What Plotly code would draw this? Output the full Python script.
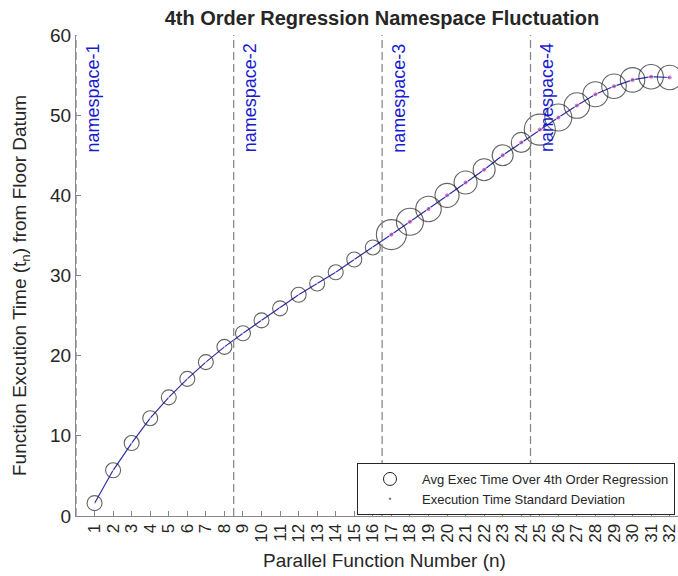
import plotly.graph_objects as go

# ---- data ----
n = list(range(1, 33))
avg_time = [1.6, 5.7, 9.1, 12.2, 14.8, 17.1, 19.2, 21.1, 22.8, 24.4, 25.9, 27.6,
            29.0, 30.4, 32.0, 33.5, 35.1, 36.7, 38.3, 40.0, 41.6, 43.2, 45.0, 46.6,
            48.2, 49.7, 51.2, 52.6, 53.6, 54.4, 54.8, 54.7]
# relative fluctuation (drawn as circle diameter)
fluctuation = [3.0] * 16 + [6.0, 5.4, 5.1, 4.8, 4.6, 4.4, 4.2, 4.0,
                            6.2, 5.4, 5.1, 5.0, 4.9, 4.9, 4.9, 4.9]
# execution time standard deviation (drawn as dot size)
std_dev = [0.2] * 16 + [1.0] * 16
namespace_bounds = [0, 8.5, 16.5, 24.5]
namespace_labels = ["namespace-1", "namespace-2", "namespace-3", "namespace-4"]
x_ticks = n
y_ticks = [0, 10, 20, 30, 40, 50, 60]

FONT = "Liberation Sans, Arial, Helvetica, sans-serif"

fig = go.Figure()

# connecting regression line
fig.add_trace(go.Scatter(
    x=n, y=avg_time, mode="lines",
    line=dict(color="#2e2eaa", width=1.2),
    showlegend=False, hoverinfo="skip"))

# circles
fig.add_trace(go.Scatter(
    x=n, y=avg_time, mode="markers", showlegend=False,
    marker=dict(symbol="circle-open", size=[f * 5 for f in fluctuation],
                color="#222222", line=dict(width=1.1, color="#222222")),
    cliponaxis=False))

# std dev dots
fig.add_trace(go.Scatter(
    x=n, y=avg_time, mode="markers", showlegend=False,
    marker=dict(symbol="circle", size=[s * 5 for s in std_dev], color="#b449b4")))

# legend entries
fig.add_trace(go.Scatter(
    x=[None], y=[None], mode="markers",
    name="Avg Exec Time Over 4th Order Regression",
    marker=dict(symbol="circle-open", size=13, color="#222222",
                line=dict(width=1, color="#222222"))))
fig.add_trace(go.Scatter(
    x=[None], y=[None], mode="markers",
    name="Execution Time Standard Deviation",
    marker=dict(symbol="circle", size=2.5, color="#8a7a8a")))

# namespace boundaries
for xb, lab in zip(namespace_bounds, namespace_labels):
    fig.add_shape(type="line", xref="x", yref="y", x0=xb, x1=xb, y0=0, y1=60,
                  line=dict(color="#8a8a8a", width=1.3, dash="8px,4px"))
    fig.add_annotation(x=xb + 0.9, y=59.2, xref="x", yref="y", text=lab,
                       textangle=-90, showarrow=False, xanchor="center", yanchor="top",
                       font=dict(family=FONT, size=18, color="#1a1ad0"))

# axis titles
fig.add_annotation(xref="paper", yref="paper", x=(384 - 76) / 602, y=(516 - 560) / 481,
                   text="Parallel Function Number (n)", showarrow=False,
                   xanchor="center", yanchor="middle",
                   font=dict(family=FONT, size=19, color="#262626"))
fig.add_annotation(xref="paper", yref="paper", x=(21 - 76) / 602, y=(516 - 286) / 481,
                   text="Function Excution Time (t<sub>n</sub>) from Floor Datum",
                   showarrow=False, textangle=-90, xanchor="center", yanchor="middle",
                   font=dict(family=FONT, size=19, color="#262626"))

fig.update_layout(
    width=678, height=576,
    margin=dict(l=76, r=0, t=35, b=60),
    plot_bgcolor="white", paper_bgcolor="white",
    title=dict(text="4th Order Regression Namespace Fluctuation",
               x=382 / 678, xanchor="center", y=1 - 18 / 576, yanchor="middle",
               yref="container",
               font=dict(family=FONT, size=20, color="#262626", weight="bold")),
    legend=dict(x=0.995, xanchor="right", y=(516 - 463) / 481, yanchor="top",
                bgcolor="white", bordercolor="#262626", borderwidth=1,
                font=dict(family=FONT, size=13, color="#262626"),
                itemwidth=54, tracegroupgap=0),
    xaxis=dict(range=[0, 32.45], tickvals=x_ticks, ticktext=[str(v) for v in x_ticks],
               tickangle=-90, ticks="inside", ticklen=5, tickcolor="#888888",
               showline=True, linecolor="#888888", linewidth=1.2,
               showgrid=False, zeroline=False, ticklabeloverflow="allow",
               tickfont=dict(family=FONT, size=17, color="#262626")),
    yaxis=dict(range=[0, 60], tickvals=y_ticks, ticks="inside", ticklen=5,
               tickcolor="#888888", showline=True, linecolor="#888888", linewidth=1.2,
               showgrid=False, zeroline=False,
               tickfont=dict(family=FONT, size=19, color="#262626")),
)

fig.write_html("out.html")
